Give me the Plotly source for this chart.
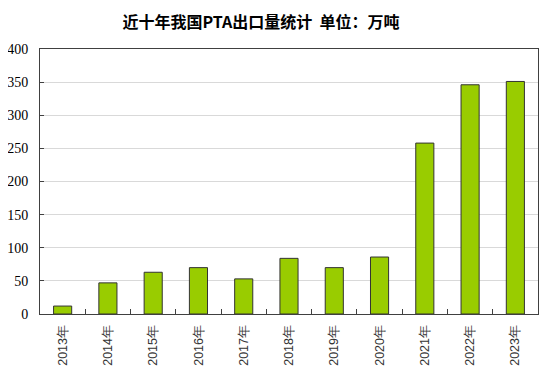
import plotly.graph_objects as go

years = ["2013年", "2014年", "2015年", "2016年", "2017年", "2018年",
         "2019年", "2020年", "2021年", "2022年", "2023年"]
exports = [12, 47, 63, 70, 53, 84, 70, 86, 258, 346, 351]
y_ticks = [0, 50, 100, 150, 200, 250, 300, 350, 400]
title_text = "近十年我国PTA出口量统计  单位：万吨"

# page body has an 8px default margin; figure sized to compensate
W, H = 546, 372

fig = go.Figure()
fig.add_trace(go.Bar(
    x=years, y=exports,
    marker=dict(color="#99cc00", line=dict(color="#333333", width=1)),
    width=0.4,
))

fig.update_layout(
    width=W, height=H,
    margin=dict(l=32, r=16, t=40.5, b=66),
    paper_bgcolor="white", plot_bgcolor="white",
    showlegend=False,
    title=dict(text="<b>" + title_text + "</b>", x=253/W, xanchor="center",
               y=1 - 14/H, yanchor="middle",
               font=dict(family="Noto Sans CJK SC", size=16, color="#000000")),
    xaxis=dict(
        type="category", tickangle=-90, automargin=False,
        showline=True, linecolor="#404040", linewidth=1, mirror=True,
        ticks="inside", ticklen=5, tickcolor="#404040", tickson="boundaries",
        tickfont=dict(family="Liberation Sans, Arial", size=12.5, color="#333333"),
        ticklabelstandoff=5,
        showgrid=False,
    ),
    yaxis=dict(
        range=[0, 400], tickvals=y_ticks, automargin=False,
        showline=True, linecolor="#404040", linewidth=1, mirror=True,
        ticks="inside", ticklen=4, tickcolor="#404040",
        showgrid=True, gridcolor="#d9d9d9", gridwidth=1,
        tickfont=dict(family="Liberation Serif, Times New Roman", size=14, color="#000000"),
        ticklabelstandoff=8,
        zeroline=False,
    ),
)

fig.write_html("out.html")
